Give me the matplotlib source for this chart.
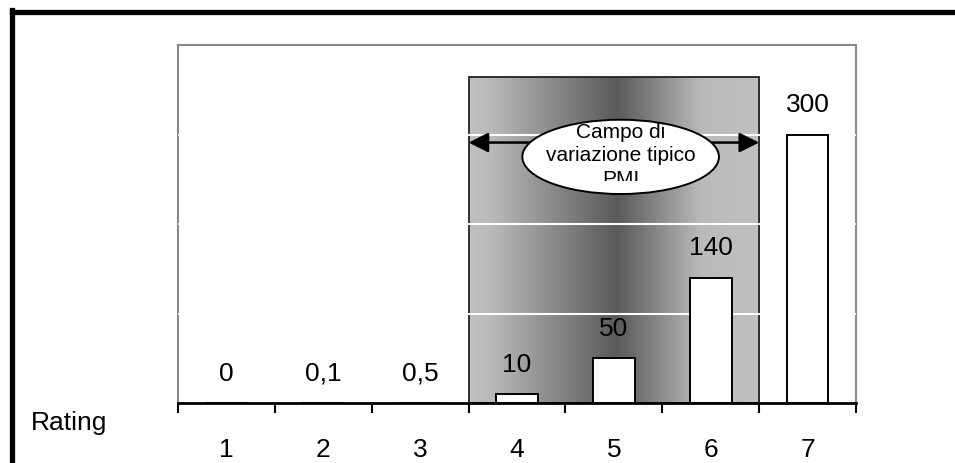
import numpy as np
import matplotlib
matplotlib.use("Agg")
import matplotlib.pyplot as plt
from matplotlib.colors import LinearSegmentedColormap
from matplotlib.patches import Ellipse, Rectangle
from matplotlib.lines import Line2D

plt.rcParams['font.family'] = ['Liberation Sans', 'DejaVu Sans']

ratings = [1, 2, 3, 4, 5, 6, 7]
values = [0, 0.1, 0.5, 10, 50, 140, 300]
value_labels = ["0", "0,1", "0,5", "10", "50", "140", "300"]
band_range = (3.5, 6.5)       # campo di variazione tipico PMI
band_top = 364
arrow_level = 291
grid_levels = [100, 200, 300]
ellipse_lines = ["Campo di", "variazione tipico", "PMI"]


fig = plt.figure(figsize=(9.55, 4.63), dpi=100)
ax = fig.add_axes([178 / 955, 1 - 403 / 463, 678 / 955, 358 / 463])
ax.set_xlim(0.5, 7.5)
ax.set_ylim(0, 400)

# black frame, only top and left visible (rest cut off)
fig.add_artist(Line2D([12 / 955, 12 / 955], [0, 1 - 10 / 463], transform=fig.transFigure,
                      color="black", lw=3.8, solid_capstyle="projecting"))
fig.add_artist(Line2D([12 / 955, 1.0], [1 - 12 / 463, 1 - 12 / 463], transform=fig.transFigure,
                      color="black", lw=3.8, solid_capstyle="projecting"))

# gradient band
cmap = LinearSegmentedColormap.from_list(
    "band", [(0.0, "#c0c0c0"), (0.08, "#b8b8b8"), (0.51, "#5a5a5a"),
             (0.80, "#bababa"), (1.0, "#c0c0c0")])
grad = np.linspace(0, 1, 300).reshape(1, -1)
ax.imshow(grad, cmap=cmap, aspect="auto", extent=[band_range[0], band_range[1], 0, band_top],
          zorder=1, interpolation="bilinear")
ax.add_patch(Rectangle((band_range[0], 0), band_range[1] - band_range[0], band_top,
                       fill=False, edgecolor="#222222", lw=1.3, zorder=2))

for g in grid_levels:
    ax.axhline(g, color="white", lw=1.5, zorder=3)

bars = ax.bar(ratings, values, width=0.43, color="white", edgecolor="black", lw=1.4, zorder=4)
for x, v, lab in zip(ratings, values, value_labels):
    ax.annotate(lab, (x, v), xytext=(0, 16), textcoords="offset points",
                ha="center", va="baseline", fontsize=19, zorder=6)

# arrow and ellipse
ax.annotate("", xy=(band_range[0], arrow_level), xytext=(band_range[1], arrow_level),
            arrowprops=dict(arrowstyle="<|-|>", color="black", lw=1.8,
                            mutation_scale=30, shrinkA=0, shrinkB=0), zorder=5)
ax.add_patch(Ellipse((5.07, 275), 2.03, 83, facecolor="white", edgecolor="black",
                     lw=1.4, zorder=6))
clip = Rectangle((3.5, 248), 3, 152, transform=ax.transData)
line_y = [296, 270, 244]
for txt, yy in zip(ellipse_lines, line_y):
    t = ax.text(5.07, yy, txt, ha="center", va="baseline", fontsize=15, zorder=7)
    t.set_clip_on(True)
    t.set_clip_path(clip)

# axes styling
for side in ["top", "left", "right"]:
    ax.spines[side].set_color("#888888")
    ax.spines[side].set_linewidth(1.5)
ax.spines["bottom"].set_color("black")
ax.spines["bottom"].set_linewidth(2)
ax.set_yticks([])
ax.set_xticks(ratings)
ax.set_xticks(np.arange(0.5, 8.0, 1.0), minor=True)
ax.tick_params(axis="x", which="major", length=0, pad=25, labelsize=19)
ax.tick_params(axis="x", which="minor", length=7.5, width=1.5, direction="out", color="black")

fig.text(69 / 955, 1 - 430 / 463, "Rating", ha="center", va="baseline", fontsize=19)

fig.savefig("out.png", dpi=100)
